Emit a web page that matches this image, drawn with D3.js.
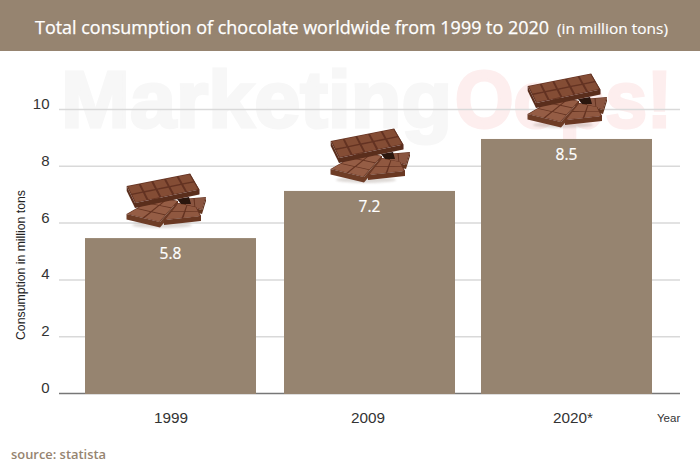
<!DOCTYPE html>
<html><head><meta charset="utf-8">
<script src="https://cdn.jsdelivr.net/npm/d3@7/dist/d3.min.js"></script>
<style>html,body{margin:0;padding:0;background:#fff}svg{display:block}
text{font-family:"Liberation Sans",Arial,sans-serif}
.h{font-family:"Open Sans",sans-serif}</style></head><body>
<script>
const categories = ["1999","2009","2020*"];
const barValues = [5.49,7.15,8.98];
const valueLabels = ["5.8","7.2","8.5"];
const yTicks = [0,2,4,6,8,10];
const titleMain = "Total consumption of chocolate worldwide from 1999 to 2020";
const titleUnit = "(in million tons)";
const yAxisTitle = "Consumption in million tons";
const xAxisTitle = "Year";
const sourceText = "source: statista";
const watermarkParts = ["Marketing","Oops!"];

const brown="#968470", W=700, H=468;
const svg=d3.select("body").append("svg").attr("width",W).attr("height",H);
const y=d3.scaleLinear().domain([0,10]).range([394,110]);
const xCenter=d3.scaleOrdinal().domain(categories).range([170.5,369.5,566.5]);
const labelX=d3.scaleOrdinal().domain(categories).range([171,368,573]);
const barW=171;

// header
svg.append("rect").attr("width",W).attr("height",51).attr("fill",brown);
svg.append("text").attr("class","h").attr("x",35).attr("y",34).attr("fill","#fff")
  .attr("stroke","#fff").attr("stroke-width",.25).attr("font-size",18)
  .attr("textLength",514).attr("lengthAdjust","spacingAndGlyphs").text(titleMain);
svg.append("text").attr("class","h").attr("x",557).attr("y",34).attr("fill","#fff")
  .attr("stroke","#fff").attr("stroke-width",.15).attr("font-size",15)
  .attr("textLength",111).attr("lengthAdjust","spacingAndGlyphs").text(titleUnit);

// watermark
const wmX=d3.scaleOrdinal().domain(watermarkParts).range([61,455]);
const wmW=d3.scaleOrdinal().domain(watermarkParts).range([391,217]);
const wmC=d3.scaleOrdinal().domain(watermarkParts).range(["#f7f7f7","#fdeeee"]);
svg.append("g").selectAll("text").data(watermarkParts).join("text")
  .attr("x",d=>wmX(d)).attr("y",127).attr("font-size",79).attr("font-weight","bold")
  .attr("textLength",d=>wmW(d)).attr("lengthAdjust","spacingAndGlyphs")
  .attr("fill",d=>wmC(d)).attr("stroke",d=>wmC(d)).attr("stroke-width",3).text(d=>d);

// grid
svg.append("g").selectAll("line").data(yTicks).join("line")
  .attr("x1",59).attr("x2",680).attr("y1",d=>y(d)-.5).attr("y2",d=>y(d)-.5)
  .attr("stroke",d=>d===0?"#777":"#d9d9d9").attr("stroke-width",1.5);

// y ticks
svg.append("g").selectAll("text").data(yTicks).join("text")
  .attr("x",49.5).attr("y",d=>y(d)-1).attr("text-anchor","end")
  .attr("font-size",15).attr("fill","#333").text(d=>d);

// bars
const rows=categories.map((c,i)=>({c,v:barValues[i],l:valueLabels[i]}));
svg.append("g").selectAll("rect").data(rows).join("rect")
  .attr("x",d=>xCenter(d.c)-barW/2).attr("width",barW)
  .attr("y",d=>y(d.v)).attr("height",d=>y(0)-y(d.v)).attr("fill",brown);
svg.append("g").selectAll("text").data(rows).join("text").attr("class","h")
  .attr("x",d=>xCenter(d.c)).attr("y",d=>y(d.v)+21).attr("text-anchor","middle")
  .attr("font-size",15.5).attr("fill","#fff").attr("stroke","#fff").attr("stroke-width",.2).text(d=>d.l);

// x labels
svg.append("g").selectAll("text").data(categories).join("text")
  .attr("x",d=>labelX(d)).attr("y",423).attr("text-anchor","middle")
  .attr("font-size",15.3).attr("fill","#333").text(d=>d);
svg.append("text").attr("x",657).attr("y",422).attr("font-size",11.5).attr("fill","#333").text(xAxisTitle);
svg.append("text").attr("transform","translate(24.5,265) rotate(-90)").attr("text-anchor","middle")
  .attr("font-size",12).attr("fill","#222").attr("textLength",150).attr("lengthAdjust","spacingAndGlyphs").text(yAxisTitle);
svg.append("text").attr("class","h").attr("x",11).attr("y",459).attr("font-size",13.3)
  .attr("font-weight",600).attr("fill",brown).attr("textLength",95).attr("lengthAdjust","spacingAndGlyphs").text(sourceText);

// chocolate symbol
const defs=svg.append("defs");
defs.append("filter").attr("id","blur").attr("x","-20%").attr("y","-50%").attr("width","140%").attr("height","200%")
  .append("feGaussianBlur").attr("stdDeviation",1.3);
defs.append("filter").attr("id","soft").append("feGaussianBlur").attr("stdDeviation",.3);
const sym=defs.append("g").attr("id","choc");
const poly=(g,p,f)=>g.append("polygon").attr("points",p.map(q=>q.join(",")).join(" ")).attr("fill",f);
sym.append("ellipse").attr("cx",36).attr("cy",52).attr("rx",30).attr("ry",3).attr("fill","#8a7a70").attr("opacity",.28).attr("filter","url(#blur)");
const art=sym.append("g").attr("filter","url(#soft)");
function tablet(q,cols,rows,cell,depth,side,e){
  const [a,b,c,d]=q;
  const P=(u,v)=>[0,1].map(k=>(a[k]*(1-u)+b[k]*u)*(1-v)+(d[k]*(1-u)+c[k]*u)*v);
  poly(art,[d,c,[c[0],c[1]+depth],[d[0],d[1]+depth]],side);
  poly(art,[b,c,[c[0],c[1]+depth],[b[0],b[1]+depth]],side);
  poly(art,[a,d,[d[0],d[1]+depth],[a[0],a[1]+depth]],side);
  poly(art,q,"#643322");
  for(let i=0;i<cols;i++)for(let j=0;j<rows;j++){
    const u0=(i+e)/cols,u1=(i+1-e)/cols,v0=(j+e)/rows,v1=(j+1-e)/rows;
    poly(art,[P(u0,v0),P(u1,v0),P(u1,v1),P(u0,v1)],cell);
  }
}
// back right piece
tablet([[56,26],[80,24],[76,37],[62,33]],2,1,"#8a5540",4,"#63341f",.05);
// lower left piece
tablet([[0.5,41],[30,24],[52,28],[34,49]],3,2,"#955d44",5.5,"#6e3c28",.05);
// lower right piece
tablet([[38,47],[52,30],[70,34],[75,43]],2,2,"#905840",5,"#6a3723",.05);
// dark hollow
poly(art,[[51,26],[63,24],[65,31],[55,31]],"#2a130b");
// top tablet
tablet([[0.7,13],[64,0.5],[73.3,16.5],[9,30]],5,2,"#844d36",5,"#5a2d1d",.08);

const chocDx=d3.scaleOrdinal().domain(categories).range([-44.5,-39.5,-39.5]);
const chocDy=d3.scaleOrdinal().domain(categories).range([-65,-63,-66]);
svg.append("g").selectAll("use").data(rows).join("use").attr("href","#choc")
  .attr("x",d=>xCenter(d.c)+chocDx(d.c)).attr("y",d=>y(d.v)+chocDy(d.c));
</script></body></html>
